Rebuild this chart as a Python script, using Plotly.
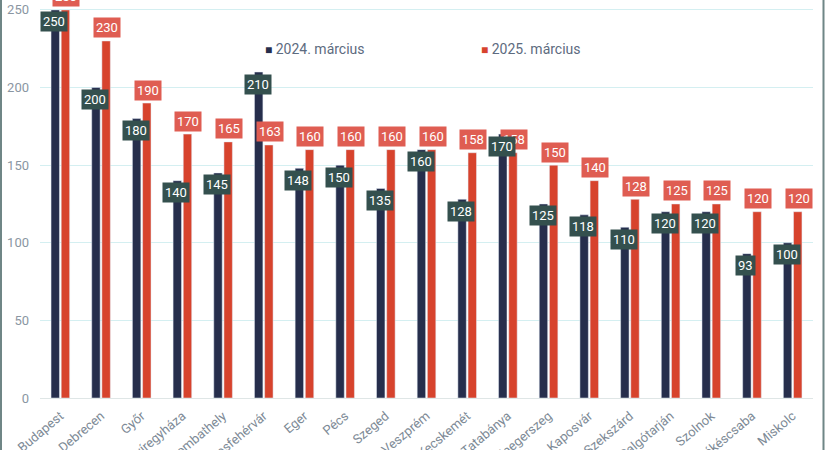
import plotly.graph_objects as go

cities = ["Budapest", "Debrecen", "Győr", "Nyíregyháza", "Szombathely", "Székesfehérvár",
          "Eger", "Pécs", "Szeged", "Veszprém", "Kecskemét", "Tatabánya", "Zalaegerszeg",
          "Kaposvár", "Szekszárd", "Salgótarján", "Szolnok", "Békéscsaba", "Miskolc"]
values_2024 = [250, 200, 180, 140, 145, 210, 148, 150, 135, 160, 128, 170, 125, 118, 110, 120, 120, 93, 100]
values_2025 = [250, 230, 190, 170, 165, 163, 160, 160, 160, 160, 158, 158, 150, 140, 128, 125, 125, 120, 120]
series_names = ["2024. március", "2025. március"]
y_ticks = [0, 50, 100, 150, 200, 250]

NAVY = "#262e4c"
RED = "#d7432d"
NAVY_LBL = "#34504e"
RED_LBL = "#df5d52"

W, H = 825, 450
ML, MR, MT, MB = 40, 12, 0, 52
PW = W - ML - MR
PH = H - MT - MB

fig = go.Figure()
fig.add_trace(go.Bar(x=cities, y=values_2024, name=series_names[0], marker_color=NAVY,
                     showlegend=False, hoverinfo="x+y"))
fig.add_trace(go.Bar(x=cities, y=values_2025, name=series_names[1], marker_color=RED,
                     showlegend=False, hoverinfo="x+y"))

annotations = []
for c, v in zip(cities, values_2025):
    annotations.append(dict(x=c, y=v, xref="x", yref="y", text=str(v), showarrow=False,
                            xshift=6, yshift=13, bgcolor=RED_LBL, borderpad=2,
                            font=dict(family="Roboto", size=13, color="white")))
for c, v in zip(cities, values_2024):
    annotations.append(dict(x=c, y=v, xref="x", yref="y", text=str(v), showarrow=False,
                            xshift=-6, yshift=-12, bgcolor=NAVY_LBL, borderpad=2,
                            font=dict(family="Roboto", size=13, color="white")))


def px_to_paper_x(px):
    return (px - ML) / PW


def px_to_paper_y(py):
    return 1 - (py - MT) / PH


legend_items = [(series_names[0], NAVY, 263), (series_names[1], RED, 479)]
for name, col, px in legend_items:
    annotations.append(dict(x=px_to_paper_x(px), y=px_to_paper_y(49), xref="paper", yref="paper",
                            xanchor="left", yanchor="middle", showarrow=False,
                            text=f"<span style='color:{col};font-size:12px'>■</span> {name}",
                            font=dict(family="Roboto", size=14, color="#5d6b80")))

shapes = [
    dict(type="line", xref="paper", yref="paper", x0=px_to_paper_x(1), x1=px_to_paper_x(1),
         y0=px_to_paper_y(0), y1=px_to_paper_y(H), line=dict(color="#6f8686", width=2)),
    dict(type="line", xref="paper", yref="paper", x0=px_to_paper_x(823.5), x1=px_to_paper_x(823.5),
         y0=px_to_paper_y(0), y1=px_to_paper_y(H), line=dict(color="#6f8686", width=2)),
]

fig.update_layout(
    width=W, height=H, autosize=False,
    margin=dict(l=ML, r=MR, t=MT, b=MB, pad=0, autoexpand=False),
    paper_bgcolor="white", plot_bgcolor="white",
    barmode="group", bargap=0.5, bargroupgap=0.17,
    annotations=annotations, shapes=shapes,
    font=dict(family="Roboto"),
)
fig.update_xaxes(tickangle=-40, tickfont=dict(family="Roboto", size=13, color="#7d8a96"),
                 showgrid=False, ticks="", showline=False, automargin=False,
                 ticklabelstandoff=7)
fig.update_yaxes(range=[0, 256.4], tickvals=y_ticks, ticktext=[str(t) for t in y_ticks],
                 tickfont=dict(family="Roboto", size=13, color="#8a96a2"),
                 showgrid=True, gridcolor="#d4eff1", gridwidth=1,
                 zeroline=True, zerolinecolor="#dfe6e6", zerolinewidth=1,
                 ticklabelstandoff=10, showline=False, automargin=False)

fig.write_html("out.html", config={"displayModeBar": False},
               post_script="document.body.style.margin='0';document.body.style.overflow='hidden';")
